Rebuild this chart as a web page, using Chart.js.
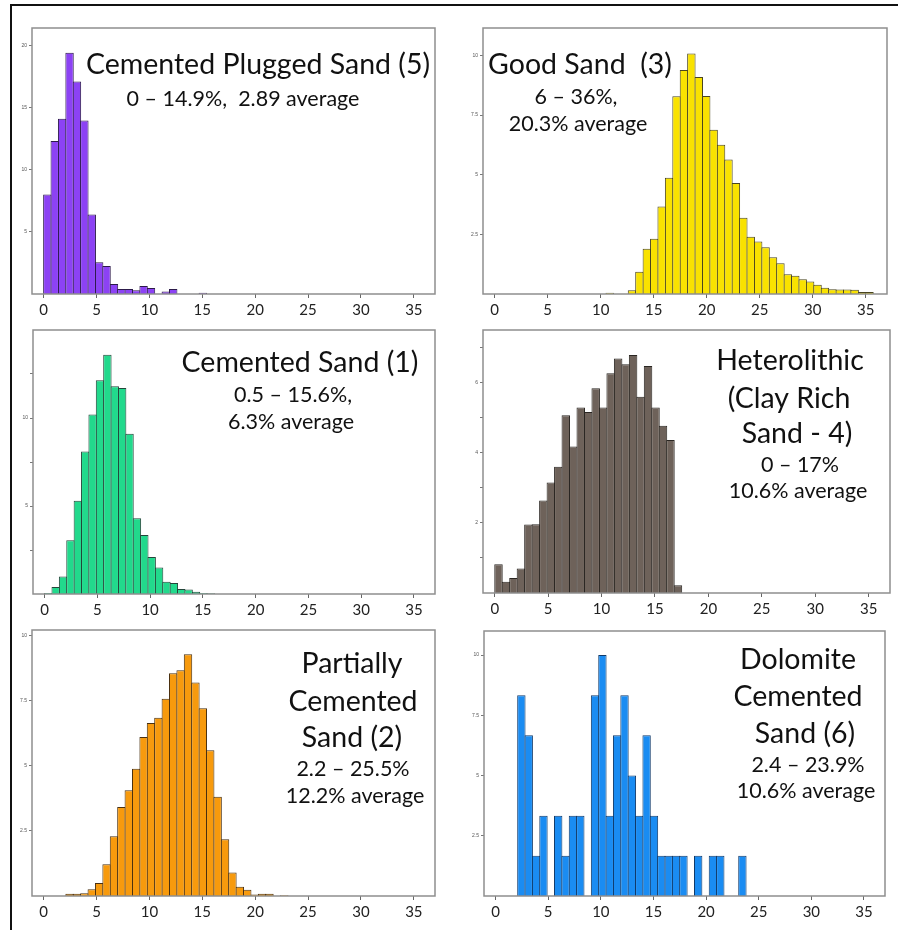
<!DOCTYPE html>
<html>
<head>
<meta charset="utf-8">
<script src="https://cdn.jsdelivr.net/npm/chart.js@4.4.1/dist/chart.umd.min.js"></script>
<style>
  body { margin: 0; background: #fff; }
  #page { position: relative; width: 898px; height: 930px; overflow: hidden; }
  #frame { position: absolute; left: 10px; top: 4px; width: 900px; height: 940px; border-left: 2px solid #111; border-top: 2px solid #111; }
  canvas { position: absolute; }
</style>
</head>
<body>
<div id="page"><div id="frame"></div></div>
<script>
// porosity histograms, bins 0.7 % wide, first bin starts at 0
const binWidth = 0.7;
const xTicks = [0, 5, 10, 15, 20, 25, 30, 35];

// frequency (%) per bin
const pluggedSand = [8.0, 12.3, 14.1, 19.4, 17.1, 13.95, 6.4, 2.55, 2.25, 0.8, 0.4, 0.4, 0.3, 0.65, 0.48, 0, 0.2, 0.4, 0, 0, 0, 0.1];
const goodSand = [0, 0, 0, 0, 0, 0, 0, 0, 0, 0, 0, 0, 0, 0, 0, 0.05, 0, 0,
  0.16, 0.93, 1.9, 2.32, 3.67, 4.87, 8.29, 9.39, 10.08, 9.1, 8.3, 6.88, 6.26, 5.64, 4.65, 3.2, 2.4, 2.2, 1.96, 1.54, 1.29,
  0.83, 0.77, 0.62, 0.52, 0.39, 0.26, 0.2, 0.19, 0.19, 0.18, 0.08, 0.08];
const cementedSand = [0.06, 0.4, 1.0, 3.05, 5.3, 8.1, 10.2, 12.15, 13.6, 11.8, 11.7, 9.1, 4.3, 3.35, 2.1, 1.5, 0.7, 0.62, 0.28, 0.25, 0.13, 0.06, 0.04];
const heterolithic = [0.82, 0.32, 0.43, 0.7, 1.95, 1.96, 2.64, 3.15, 3.6, 5.07, 4.18, 5.29, 5.16, 5.84, 5.29, 6.27, 6.69, 6.52, 6.79, 5.6, 6.47, 5.29, 4.77, 4.36, 0.22];
const partialSand = [0, 0, 0, 0.09, 0.09, 0.11, 0.26, 0.5, 1.22, 2.3, 3.42, 4.06, 4.89, 6.11, 6.65, 6.85, 7.58, 8.56, 8.67, 9.29, 8.2, 7.21, 5.6, 3.81, 2.18, 0.9, 0.36, 0.24, 0.06, 0.09, 0.09, 0, 0.03];
const dolomiteSand = [0, 0, 0, 8.33, 6.67, 1.67, 3.33, 0, 3.33, 1.67, 3.33, 3.33, 0, 8.33, 10, 3.33, 6.67, 8.33, 5, 3.33, 6.67, 3.33, 1.67, 1.67, 1.67, 1.67, 0, 1.67, 0, 1.67, 1.67, 0, 0, 1.67];

// y ticks (all drawn) and the ones that get a label
const yTicksPlugged = [5, 10, 15, 20];
const yTicksGood = [2.5, 5, 7.5, 10];
const yTicksCemented = [2.5, 5, 7.5, 10, 12.5];
const yLabelsCemented = [5, 10];
const yTicksHetero = [1, 2, 3, 4, 5, 6, 7];
const yLabelsHetero = [2, 4, 6];
const yTicksPartial = [2.5, 5, 7.5, 10];
const yTicksDolomite = [2.5, 5, 7.5, 10];

const xMin = -1.1, xMax = 37.0;
const yAxisW = 18, xAxisH = 30, padTop = 4, padRight = 6;
const TITLE = 28.5, SUB = 21.5;

const panels = [
  { values: pluggedSand, color: '#8c42f4', border: '#2c1a4a', yMax: 21.4, yTicks: yTicksPlugged, yLabels: yTicksPlugged,
    box: [32, 27, 435, 294],
    lines: [['Cemented Plugged Sand (5)', 258, 74, TITLE], ['0 \u2013 14.9%,  2.89 average', 243, 106, SUB]] },
  { values: goodSand, color: '#f9e200', border: '#4a4520', yMax: 11.15, yTicks: yTicksGood, yLabels: yTicksGood,
    box: [483, 27, 887, 294],
    lines: [['Good Sand  (3)', 580, 74, TITLE], ['6 \u2013 36%,', 576, 104, SUB], ['20.3% average', 578, 131, SUB]] },
  { values: cementedSand, color: '#22d98c', border: '#24453a', yMax: 15, yTicks: yTicksCemented, yLabels: yLabelsCemented,
    box: [33, 329, 435, 594],
    lines: [['Cemented Sand (1)', 300, 372, TITLE], ['0.5 \u2013 15.6%,', 293, 402, SUB], ['6.3% average', 291, 429, SUB]] },
  { values: heterolithic, color: '#6e625a', border: '#2a2622', yMax: 7.5, yTicks: yTicksHetero, yLabels: yLabelsHetero,
    box: [483, 329, 890, 593],
    lines: [['Heterolithic', 790, 370, TITLE], ['(Clay Rich', 789, 408, TITLE], ['Sand - 4)', 797, 443, TITLE],
            ['0 \u2013 17%', 800, 472, SUB], ['10.6% average', 798, 498, SUB]] },
  { values: partialSand, color: '#f79a0d', border: '#4a3010', yMax: 10.22, yTicks: yTicksPartial, yLabels: yTicksPartial,
    box: [32, 629, 435, 896],
    lines: [['Partially', 352, 673, TITLE], ['Cemented', 353, 711, TITLE], ['Sand (2)', 352, 747, TITLE],
            ['2.2 \u2013 25.5%', 353, 776, SUB], ['12.2% average', 355, 803, SUB]] },
  { values: dolomiteSand, color: '#1a8cf2', border: '#103a6a', yMax: 11.0, yTicks: yTicksDolomite, yLabels: yTicksDolomite,
    box: [484, 630, 885, 896],
    lines: [['Dolomite', 798, 669, TITLE], ['Cemented', 798, 706, TITLE], ['Sand (6)', 805, 743, TITLE],
            ['2.4 \u2013 23.9%', 808, 772, SUB], ['10.6% average', 806, 798, SUB]] }
];

// plot frame + the text written inside each panel
const framePlugin = {
  id: 'frame',
  afterDatasetsDraw(chart) {
    const {ctx, chartArea: a} = chart;
    ctx.save();
    ctx.strokeStyle = '#8e8e8e';
    ctx.lineWidth = 1.5;
    ctx.strokeRect(a.left, a.top, a.right - a.left, a.bottom - a.top);
    ctx.restore();
  },
  afterDraw(chart, args, opts) {
    const ctx = chart.ctx;
    ctx.save();
    ctx.fillStyle = '#111';
    ctx.textAlign = 'center';
    ctx.textBaseline = 'alphabetic';
    opts.lines.forEach(l => {
      ctx.font = l[3] + 'px Lato';
      ctx.fillText(l[0], l[1] - opts.dx, l[2] - opts.dy);
    });
    ctx.restore();
  }
};

const page = document.getElementById('page');

panels.forEach(p => {
  const [l, t, r, b] = p.box;
  const cv = document.createElement('canvas');
  const left = l - yAxisW, top = t - padTop;
  cv.width = (r - l) + yAxisW + padRight;
  cv.height = (b - t) + padTop + xAxisH;
  cv.style.left = left + 'px';
  cv.style.top = top + 'px';
  page.appendChild(cv);

  // bars 1px wider than the bin so neighbours share one outline
  const binPx = binWidth * (r - l) / (xMax - xMin);
  const barPct = (binPx + 1) / binPx;

  new Chart(cv, {
    type: 'bar',
    data: {
      datasets: [{
        data: p.values.map((v, i) => ({ x: (i + 0.5) * binWidth, y: v })),
        backgroundColor: p.color,
        borderColor: p.border,
        borderWidth: 1,
        borderSkipped: 'bottom',
        barPercentage: barPct,
        categoryPercentage: 1
      }]
    },
    options: {
      responsive: false,
      animation: false,
      layout: { padding: { top: padTop, right: padRight, left: 0, bottom: 0 } },
      plugins: {
        legend: { display: false },
        tooltip: { enabled: false },
        frame: { lines: p.lines, dx: left, dy: top }
      },
      scales: {
        x: {
          type: 'linear', min: xMin, max: xMax, offset: false,
          grid: { offset: false, drawOnChartArea: false, drawTicks: true, tickLength: 4, color: '#666' },
          border: { display: false },
          afterBuildTicks: s => { s.ticks = xTicks.map(v => ({ value: v })); },
          afterFit: s => { s.height = xAxisH; },
          ticks: { font: { family: 'Lato', size: 15 }, color: '#222', padding: 3, maxRotation: 0, autoSkip: false }
        },
        y: {
          min: 0, max: p.yMax,
          grid: { drawOnChartArea: false, drawTicks: true, tickLength: 3, color: '#777' },
          border: { display: false },
          afterBuildTicks: s => { s.ticks = p.yTicks.map(v => ({ value: v })); },
          afterFit: s => { s.width = yAxisW; },
          ticks: { font: { size: 5 }, color: '#555', padding: 2,
                   callback: v => p.yLabels.includes(v) ? String(v) : '' }
        }
      }
    },
    plugins: [framePlugin]
  });
});
</script>
</body>
</html>
